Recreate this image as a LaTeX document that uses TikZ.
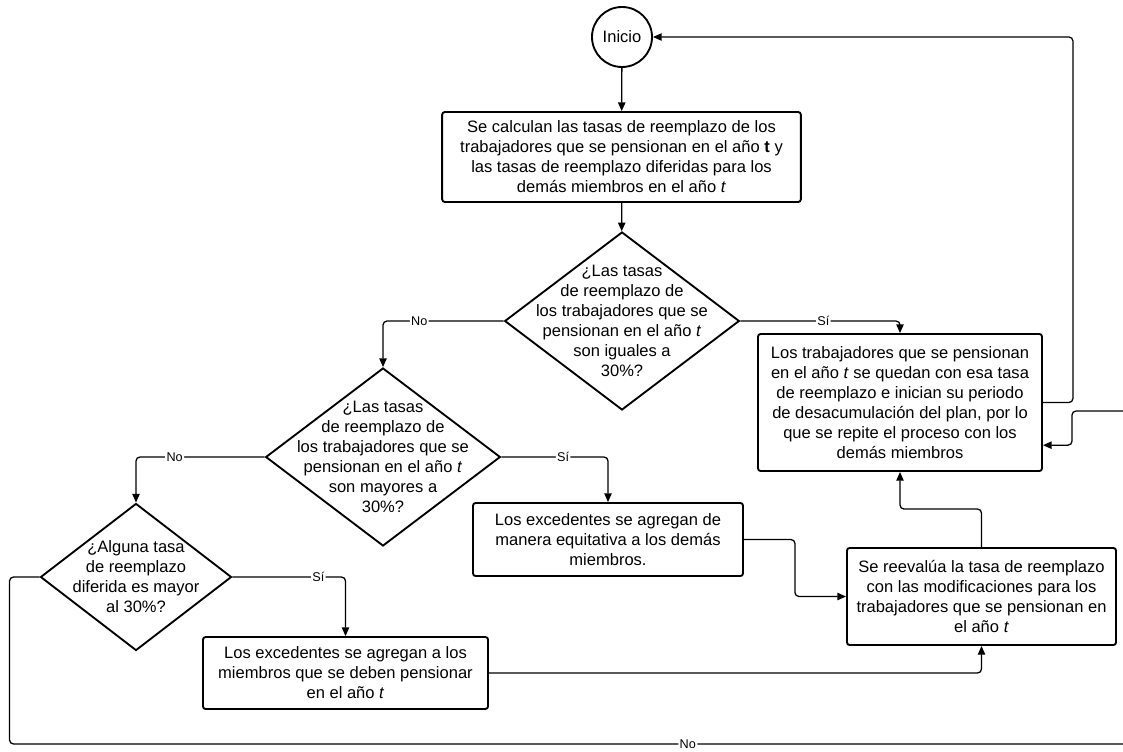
\documentclass[tikz,border=0pt]{standalone}
\usepackage{fontspec}
\setmainfont{Liberation Sans}
\usetikzlibrary{shapes.geometric,arrows.meta}

\begin{document}
\begin{tikzpicture}[x=0.75pt,y=0.75pt,>={Triangle[length=6.5pt,width=5.5pt]},
	every node/.style={font=\fontsize{12.4pt}{15pt}\selectfont},
	proc/.style={draw,line width=1.4pt,rounded corners=2pt,align=center,inner sep=2pt},
	decision/.style={draw,diamond,line width=1.4pt,inner sep=0pt},
	qtext/.style={align=center,inner sep=0pt},
	lbl/.style={fill=white,inner sep=1pt,font=\fontsize{9.5pt}{11pt}\selectfont},
	flow/.style={->,line width=0.95pt,rounded corners=3pt}]
		\useasboundingbox (0,0) rectangle (1123,-752);
		\clip (0,0) rectangle (1123,-752);
		
		% Nodes
		\node[circle,draw,line width=1.4pt,minimum size=45pt,inner sep=0pt] (ini) at (622,-37) {Inicio};
		\node[proc,minimum width=269pt,minimum height=67.5pt] (calc) at (621.5,-157) {Se calculan las tasas de reemplazo de los\\trabajadores que se pensionan en el año \textbf{t} y\\las tasas de reemplazo diferidas para los\\demás miembros en el año \textit{t}};
		
		\node[decision,minimum width=176pt,minimum height=133.5pt] (d1) at (622,-321) {};
		\node[qtext] (d1t) at (d1) {¿Las tasas\\de reemplazo de\\los trabajadores que se\\pensionan en el año \textit{t}\\son iguales a\\30\%?};
		
		\node[proc,minimum width=213pt,minimum height=102.8pt] (sir) at (900,-402.5) {Los trabajadores que se pensionan\\en el año \textit{t} se quedan con esa tasa\\de reemplazo e inician su periodo\\de desacumulación del plan, por lo\\que se repite el proceso con los\\demás miembros};
		
		\node[decision,minimum width=176pt,minimum height=133.5pt] (d2) at (383,-457) {};
		\node[qtext] (d2t) at (d2) {¿Las tasas\\de reemplazo de\\los trabajadores que se\\pensionan en el año \textit{t}\\son mayores a\\30\%?};
		
		\node[proc,minimum width=202.5pt,minimum height=54.8pt] (equit) at (608,-539.5) {Los excedentes se agregan de\\manera equitativa a los demás\\miembros.};
		\node[proc,minimum width=201.8pt,minimum height=72.8pt] (reeval) at (981.5,-596.5) {Se reevalúa la tasa de reemplazo\\con las modificaciones para los\\trabajadores que se pensionan en\\el año \textit{t}};
		
		\node[decision,minimum width=143.3pt,minimum height=110.3pt] (d3) at (136,-577) {};
		\node[qtext] (d3t) at (d3) {¿Alguna tasa\\de reemplazo\\diferida es mayor\\al 30\%?};
		
		\node[proc,minimum width=213.8pt,minimum height=54pt] (excm) at (345.5,-673) {Los excedentes se agregan a los\\miembros que se deben pensionar\\en el año \textit{t}};
		
		% points of the way round on the right
		\coordinate (rb) at (1140,-744);
		\coordinate (rt) at (1140,-411);
		\coordinate (jog) at (1072,-411);
		
		% Edges
		\draw[flow] (ini) -- (calc);
		\draw[flow] (calc) -- (d1);
		\draw[flow] (d1.west) -| node[lbl,pos=0.35]{No} (d2.north);
		\draw[flow] (d1.east) -| node[lbl,pos=0.26]{Sí} (sir.north);
		\draw[flow] (d2.west) -| node[lbl,pos=0.35]{No} (d3.north);
		\draw[flow] (d2.east) -| node[lbl,pos=0.29]{Sí} (equit.north);
		\draw[flow] (d3.east) -| node[lbl,pos=0.38]{Sí} (excm.north);
		
		\draw[flow] (equit.east) -- ++(51,0) |- (reeval.west);
		\draw[flow] (excm.east) -| (reeval.south);
		\draw[flow] (reeval.north) -- ++(0,38) -| (sir.south);
		\draw[flow] (sir.east) -- ++(30,0) |- (ini.east);
		
		\draw[flow] (d3.west) -- ++(-30,0) |- node[lbl,pos=0.8]{No} (rb) -- (rt) -- (jog) |- ([yshift=-32pt]sir.east);
		
\end{tikzpicture}
\end{document}
